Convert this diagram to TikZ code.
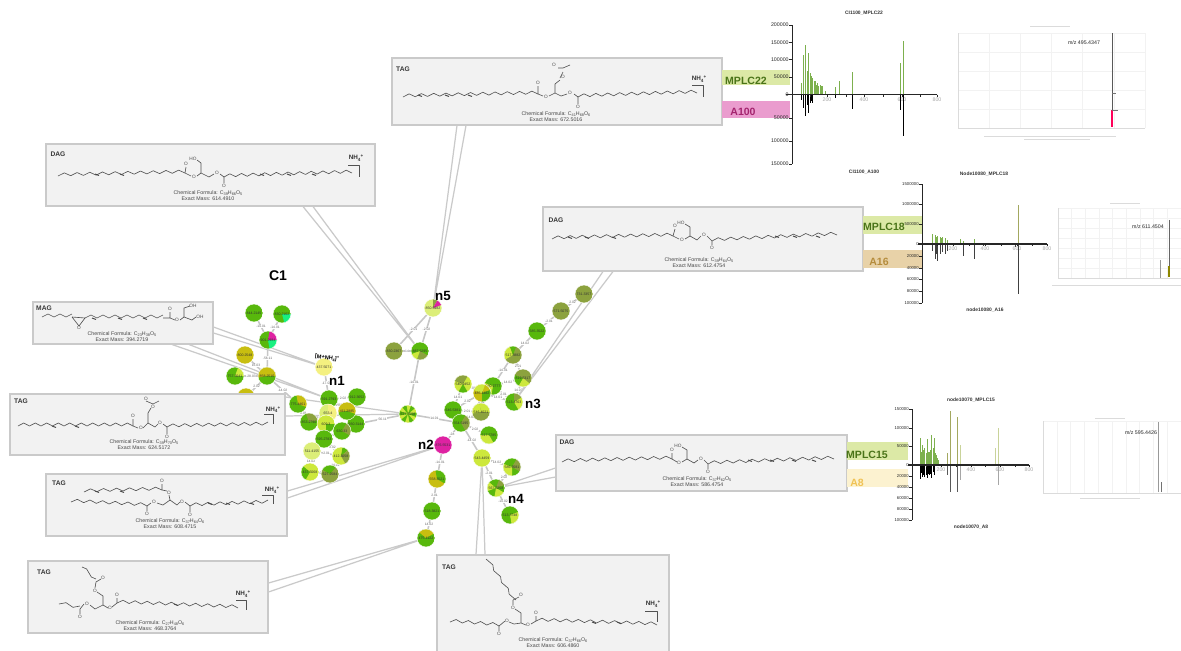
\documentclass[tikz,border=0pt]{standalone}
\usepackage{fontspec}
\setmainfont{Liberation Sans}
\newcount\nc
\newcommand{\fs}[1]{\fontsize{#1}{#1}\selectfont}
\newcommand{\subs}[1]{\raisebox{-.35ex}{\fs{2.2}#1}}
\newcommand{\nhf}{NH\raisebox{-.35ex}{\fs{2.6}4}\raisebox{.7ex}{\fs{2.6}+}}
\definecolor{cG}{HTML}{58B80C}
\definecolor{cL}{HTML}{CDE83C}
\definecolor{cP}{HTML}{DCEE78}
\definecolor{cO}{HTML}{8CA23E}
\definecolor{cY}{HTML}{C8BE10}
\definecolor{cV}{HTML}{F4F080}
\definecolor{cM}{HTML}{DE22A2}
\definecolor{cC}{HTML}{18F080}
\definecolor{boxf}{HTML}{F2F2F2}
\definecolor{boxl}{HTML}{CACACA}
\definecolor{bandG}{HTML}{DCE9A6}
\definecolor{bandM}{HTML}{EA9CCE}
\definecolor{bandO}{HTML}{E8D2A8}
\definecolor{bandY}{HTML}{FCF2D0}
\definecolor{txtG}{HTML}{4A7418}
\definecolor{txtM}{HTML}{A4246E}
\definecolor{txtO}{HTML}{B58C3C}
\definecolor{txtY}{HTML}{F0C254}
\definecolor{pkG}{HTML}{7DB04E}
\definecolor{pkO}{HTML}{A3A860}
\definecolor{pkL}{HTML}{C9D39A}
\tikzset{
  netnode/.style={circle,minimum size=0.36cm,inner sep=0pt},
  nlab/.style={font=\fs{2}\selectfont,text=black!80,inner sep=0pt},
  edge/.style={draw=black!22,line width=.9pt},
  elab/.style={font=\fs{1.9}\selectfont,text=black!60,fill=white,inner sep=.3pt,midway},
  mol/.style={draw=black!68,line width=.36pt,line join=round},
  dblb/.style={draw=black!72,line width=.55pt},
  atm/.style={font=\fs{2.7}\selectfont,text=black!70,inner sep=0pt},
  lipbox/.style={draw=boxl,fill=boxf,line width=.6pt},
  lipname/.style={font=\fs{3.8}\bfseries,text=black!78,inner sep=0pt},
  form/.style={font=\fs{3}\selectfont,text=black!72,inner sep=0pt},
  nhfour/.style={font=\fs{3.6}\bfseries,text=black!80,inner sep=0pt},
  tag/.style={font=\fs{7.6}\bfseries,text=black,inner sep=0pt},
  bandtxt/.style={font=\fs{6}\bfseries,inner sep=0pt},
  axl/.style={font=\fs{3}\selectfont,text=black!85,inner sep=0pt,anchor=east},
  axs/.style={font=\fs{2.4}\selectfont,text=black!85,inner sep=0pt,anchor=east},
  xlab/.style={font=\fs{3}\selectfont,text=black!35,inner sep=0pt},
  ctitle/.style={font=\fs{2.8}\bfseries,text=black!80,inner sep=0pt},
  axisl/.style={draw=black!85,line width=.55pt},
  gridl/.style={draw=black!5,line width=.25pt},
  plin/.style={draw=black!14,line width=.25pt},
  mz/.style={font=\fs{3}\selectfont,text=black!85,inner sep=0pt},
  capl/.style={draw=black!14,line width=.4pt},
}
\newcommand{\tnode}[3][]{\global\advance\nc by 1 \node[#1] (t\the\nc) at #2 {#3};}
\newcommand{\eg}[3]{\global\advance\nc by 1 \draw[edge] (#1) -- node[elab] (e\the\nc) {#3} (#2);}
\newcommand{\pie}[4]{%
  \begin{scope}
    \clip (#1.center) circle[radius=9];
    \fill[#2] (#1.center) circle[radius=9];
    \foreach \wa/\wb/\wc in {#3} {\fill[\wc] (#1.center) -- +(\wa:20) -- +({(\wa+\wb)/2}:20) -- +(\wb:20) -- cycle;}
  \end{scope}
  \draw[white,line width=.25pt] (#1.center) circle[radius=9];
  \node[nlab] (#1t) at (#1.center) {#4};}
\newcommand{\zz}[6]{\draw[mol] (#1,#2) \foreach \i in {1,...,#5} {-- ({#1+\i*(#3-#1)/#5},{#2+\i*(#4-#2)/#5+(isodd(\i)?(#6):0)})};}
\newcommand{\zv}[6]{\draw[mol] (#1,#2) \foreach \i in {1,...,#5} {-- ({#1+\i*(#3-#1)/#5+(isodd(\i)?(#6):0)},{#2+\i*(#4-#2)/#5})};}
\newcommand{\dbl}[2]{\foreach \dx in {#2} {\draw[dblb] (\dx,#1) -- ++(4,1.5);}}
\newcommand{\atom}[3]{\tnode[atm]{(#1,#2)}{#3}}
\newcommand{\callout}[5]{\fill[boxf] (#1,#2) -- (#5) -- (#3,#4) -- cycle; \draw[boxl,line width=.7pt] (#1,#2) -- (#5) -- (#3,#4);}
\newcommand{\peaks}[5]{\foreach \z/\h in {#5} {\draw[#1] ({#2+\z/3},#3) -- ++(0,{#4*\h/3});}}
\newcommand{\panel}[6]{%
  \foreach \i in {0,...,#5} {\draw[gridl] ({#1+\i*(#3-#1)/#5},#2) -- ++(0,{#4-#2});}
  \foreach \i in {0,...,#6} {\draw[gridl] (#1,{#2+\i*(#4-#2)/#6}) -- ++({#3-#1},0);}
  \draw[plin] (#1,#4) -- (#3,#4) (#1,#2) -- (#1,#4);}
\begin{document}
\begin{tikzpicture}[x=0.02cm,y=-0.02cm]
\clip (0,0) rectangle (1181,650);
\fill[white] (0,0) rectangle (1181,650);
% ---------- network nodes (positions)
\foreach \nm/\px/\py in {a/254/313,b/282/314,c/268/340,d/245/355,e/267/376,f/235/376,g/246/397,h/298/404,
  i/324/367,j/329/399,k/357/397,l/347/411,m/328/413,n/309/422,o/326/424,p/356/424,q/342/431,r/324/439,
  s/312/451,t/341/456,u/310/472,v/330/474,hub/408/414,nfive/433/308,w/394/351,x/420/351,ntwo/443/445,
  ba/584/294,bb/561/311,bc/537/331,bd/513/355,be/523/378,bf/493/386,nthree/514/402,bg/463/384,bh/482/393,
  bi/453/410,bj/481/412,bk/461/423,bl/489/435,bm/482/458,bn/512/467,nfour/496/488,bo/510/515,
  bp/437/479,bq/432/511,br/426/538}
  {\node[netnode] (\nm) at (\px,\py) {};}
% ---------- connectors
\eg{a}{c}{-14.01}\eg{b}{c}{-14.01}\eg{c}{e}{-56.11}\eg{d}{e}{16.03}\eg{f}{e}{-28.03}\eg{g}{e}{2.02}
\eg{e}{h}{-14.02}\eg{h}{n}{2.01}\eg{i}{j}{-17.03}\eg{j}{k}{2.02}\eg{j}{l}{14.02}\eg{k}{l}{2.01}\eg{l}{p}{2.02}
\eg{j}{m}{2.01}\eg{m}{n}{14.02}\eg{m}{o}{2.01}\eg{o}{q}{2.01}\eg{p}{q}{14.02}\eg{q}{r}{2.02}\eg{o}{r}{14.02}
\eg{r}{s}{14.01}\eg{r}{t}{2.02}\eg{s}{t}{2.01}\eg{s}{u}{14.02}\eg{t}{v}{14.01}\eg{u}{v}{2.02}
\eg{p}{hub}{-56.11}\eg{hub}{x}{-14.01}\eg{x}{nfive}{-2.02}\eg{w}{nfive}{-2.01}\eg{w}{x}{14}
\eg{hub}{bk}{14.01}\eg{bk}{ntwo}{-28}\eg{bk}{bi}{2.01}\eg{bk}{bj}{14.02}\eg{bk}{bl}{2.02}\eg{bk}{bm}{-14.02}
\eg{bi}{bj}{2.01}\eg{bi}{bg}{14.01}\eg{bi}{bh}{2.02}\eg{bg}{bh}{2.01}\eg{bh}{bf}{2}\eg{bf}{be}{14.02}\eg{bf}{nthree}{2.01}\eg{bf}{bd}{-14.01}
\eg{bh}{bj}{2.02}\eg{bh}{nthree}{14.01}\eg{bd}{be}{2.01}\eg{bd}{bc}{14.02}\eg{bc}{bb}{-2.01}\eg{bb}{ba}{2.02}\eg{be}{nthree}{14.02}
\eg{bm}{bn}{14.02}\eg{bm}{nfour}{-2.01}\eg{bn}{nfour}{2.02}\eg{nfour}{bo}{-14.02}\eg{ntwo}{bp}{-14.01}\eg{bp}{bq}{2.01}\eg{bq}{br}{14.02}
\pie{g}{cY}{}{875.5432}
% ---------- boxes with callouts
\draw[lipbox] (392,58) rectangle (722,125);
\draw[lipbox] (46,144) rectangle (375,206);
\draw[lipbox] (543,207) rectangle (863,271);
\draw[lipbox] (33,302) rectangle (213,344);
\draw[lipbox] (10,394) rectangle (285,455);
\draw[lipbox] (46,474) rectangle (287,536);
\draw[lipbox] (28,561) rectangle (268,633);
\draw[lipbox] (437,555) rectangle (669,660);
\draw[lipbox] (556,435) rectangle (847,491);
\callout{457}{125.5}{466}{125.5}{nfive}
\callout{303}{206.5}{313}{206.5}{x}
\callout{603}{271.5}{613}{271.5}{nthree}
\callout{213.5}{327}{213.5}{333}{i}
\callout{172}{344.5}{189}{344.5}{j}
\callout{285.5}{397}{285.5}{416}{hub}
\callout{287.5}{491}{287.5}{498}{ntwo}
\callout{268.5}{583}{268.5}{592}{br}
\callout{476}{554.5}{485}{554.5}{bm}
\callout{555.5}{468}{555.5}{477}{nfour}
% ---------- pies
\pie{a}{cG}{}{844.2145}
\pie{b}{cG}{0/75/cC}{830.2162}
\pie{c}{cG}{-80/0/cM,0/80/cC}{901.2984}
\pie{d}{cY}{}{800.2548}
\pie{e}{cG}{170/360/cY}{858.2510}
\pie{f}{cG}{-70/0/cL}{757.3041}
\pie{h}{cG}{-100/20/cY}{775.4461}
\pie{i}{cV}{}{437.5071}
\pie{j}{cG}{}{591.2793}
\pie{k}{cG}{}{912.3652}
\pie{n}{cG}{-110/-10/cO}{853.2790}
\pie{m}{cP}{-90/80/cV}{653.4}
\pie{o}{cL}{0/90/cG}{609.3}
\pie{p}{cG}{}{930.3144}
\pie{l}{cY}{20/170/cG}{411.2885}
\pie{q}{cG}{-60/30/cO}{630.33}
\pie{r}{cG}{}{595.2783}
\pie{s}{cP}{}{511.4155}
\pie{t}{cL}{-80/-40/cG,-40/60/cO}{412.3058}
\pie{u}{cL}{120/220/cG}{437.5068}
\pie{v}{cO}{-150/-50/cG}{527.2584}
\pie{hub}{cL}{-70/-40/cG,-10/20/cG,50/80/cG,110/140/cG,170/200/cG,230/260/cG}{577.5558}
\pie{nfive}{cP}{-90/-60/cO,-60/-20/cM}{850.5982}
\pie{w}{cO}{}{830.2367}
\pie{x}{cG}{30/110/cO,110/160/cL}{887.5295}
\pie{ntwo}{cM}{}{876.5531}
\pie{ba}{cO}{}{731.3357}
\pie{bb}{cO}{}{571.5075}
\pie{bc}{cG}{}{585.3522}
\pie{bd}{cO}{150/250/cL,250/290/cG}{517.3882}
\pie{be}{cO}{40/120/cL,120/200/cG}{819.5317}
\pie{bf}{cG}{100/200/cL}{490.2777}
\pie{nthree}{cG}{-90/-30/cO,-30/60/cL}{513.4763}
\pie{bg}{cL}{-160/-60/cO,60/120/cG}{540.2452}
\pie{bh}{cY}{-20/90/cG,200/290/cL}{485.4482}
\pie{bi}{cG}{}{646.5381}
\pie{bj}{cO}{-100/0/cL,170/260/cL}{546.4021}
\pie{bk}{cG}{-60/60/cO}{554.5195}
\pie{bl}{cG}{60/180/cL}{517.5785}
\pie{bm}{cL}{}{543.4459}
\pie{bn}{cG}{-60/30/cO,90/200/cL}{586.3581}
\pie{nfour}{cG}{-70/-20/cO,30/100/cL,160/220/cL}{567.5258}
\pie{bo}{cG}{-20/80/cL}{513.3748}
\pie{bp}{cY}{-100/30/cG}{558.3521}
\pie{bq}{cG}{}{518.3821}
\pie{br}{cG}{-140/-30/cY}{475.4122}
% ---------- network labels
\tnode[rotate=-8,font=\fs{3.2}\bfseries,inner sep=0pt]{(327,358)}{[M+NH\subs{4}]\raisebox{.7ex}{\fs{2.2}+}}
\tnode[tag,font=\fs{8}\bfseries]{(278,276)}{C1}
\tnode[tag]{(337,381)}{n1}
\tnode[tag]{(426,445)}{n2}
\tnode[tag]{(533,404)}{n3}
\tnode[tag]{(516,499)}{n4}
\tnode[tag]{(443,296)}{n5}
% ---------- molecules
% TAG top
\tnode[lipname]{(403,69)}{TAG}
\zz{403}{97}{538}{94}{22}{-3}\dbl{95}{418,445,468}
\draw[mol] (538,94) -- (538,86) (538,94) -- (543,96) (549,96) -- (555,93) -- (555,84) -- (560,80) (555,93) -- (561,96) -- (567,94) (574,94) -- (578,97) -- (578,104) (558,68) -- (563,68) -- (570,65) (560,78) -- (563,72);
\atom{538}{83}{O}\atom{546}{97}{O}\atom{563}{77}{O}\atom{554}{65}{O}\atom{570}{93}{O}\atom{578}{107}{O}
\zz{578}{97}{697}{93}{20}{-3}
\draw[mol] (692,85) -- (703,85) -- (703,97);\tnode[nhfour]{(699,79)}{\nhf}
\tnode[form]{(556,114)}{Chemical Formula: C\subs{41}H\subs{68}O\subs{6}}\tnode[form]{(556,120)}{Exact Mass: 672.5016}
% DAG 1
\tnode[lipname]{(58,154)}{DAG}
\zz{58}{176}{185}{173}{20}{-3}\dbl{174}{95,120}
\draw[mol] (185,173) -- (186,167) (185,173) -- (191,176) (197,176) -- (201,173) -- (201,163) -- (197,160) (201,173) -- (209,177) -- (214,174) (220,174) -- (224,177) -- (224,183);
\atom{186}{164}{O}\atom{194}{177}{O}\atom{193}{159}{HO}\atom{217}{173}{O}\atom{224}{186}{O}
\zz{224}{177}{352}{173}{22}{-3}\dbl{174}{260,287,312}
\draw[mol] (348,165) -- (359,165) -- (359,177);\tnode[nhfour]{(356,158)}{\nhf}
\tnode[form]{(208,193)}{Chemical Formula: C\subs{39}H\subs{66}O\subs{5}}\tnode[form]{(208,198.5)}{Exact Mass: 614.4910}
% DAG 2
\tnode[lipname]{(556,220)}{DAG}
\zz{552}{239}{673}{236}{20}{-3}\dbl{237}{568,585,612}
\draw[mol] (673,236) -- (675,229) (673,236) -- (679,239) (685,239) -- (690,236) -- (690,227) -- (685,224) (690,236) -- (697,240) -- (701,236) (707,236) -- (712,241) -- (712,245);
\atom{675}{226}{O}\atom{682}{240}{O}\atom{681}{223}{HO}\atom{704}{235}{O}\atom{712}{248}{O}
\zz{712}{241}{837}{235}{20}{-3}\dbl{236}{775,793,816}
\tnode[form]{(699,260)}{Chemical Formula: C\subs{39}H\subs{64}O\subs{5}}\tnode[form]{(699,265.5)}{Exact Mass: 612.4754}
% DAG 3
\tnode[lipname]{(567,442)}{DAG}
\zz{562}{462}{672}{459}{18}{-3}
\draw[mol] (672,459) -- (672,453) (672,459) -- (677,462) (682,462) -- (687,459) -- (687,450) -- (682,447) (687,459) -- (694,463) -- (698,460) (704,460) -- (708,464) -- (708,469);
\atom{672}{450}{O}\atom{679}{463}{O}\atom{678}{446}{HO}\atom{701}{459}{O}\atom{708}{472}{O}
\zz{708}{464}{834}{459}{20}{-3}\dbl{460}{748,770,792,812}
\tnode[form]{(697,479)}{Chemical Formula: C\subs{37}H\subs{62}O\subs{5}}\tnode[form]{(697,485)}{Exact Mass: 586.4754}
% MAG
\tnode[lipname]{(44,308)}{MAG}
\zz{42}{317}{72}{317}{5}{-3}
\draw[mol] (72,317) -- (79,326) -- (85,318) -- (72,317);
\zz{85}{318}{163}{318}{13}{-3}\dbl{318}{92,118,143}
\draw[mol] (163,318) -- (170,318) -- (170,312) (170,318) -- (175,320) (180,320) -- (184,317) -- (184,308) -- (190,306) (184,317) -- (192,320) -- (196,317);
\atom{170}{309}{O}\atom{177}{320}{O}\atom{193}{305.5}{OH}\atom{200}{317}{OH}\atom{79}{328}{O}
\tnode[form]{(122,334)}{Chemical Formula: C\subs{23}H\subs{38}O\subs{5}}\tnode[form]{(122,339.5)}{Exact Mass: 394.2719}
% TAG 3
\tnode[lipname]{(21,401)}{TAG}
\zz{18}{426}{133}{426}{20}{-3}\dbl{426}{52,75}
\draw[mol] (133,426) -- (133,419) (133,426) -- (138,428) (143,428) -- (148,423) -- (148,413) -- (151,408) (153,404) -- (146,401) (153,404) -- (159,401) (148,423) -- (155,427) -- (158,424) (163,424) -- (167,427) -- (167,434);
\atom{133}{416}{O}\atom{141}{428}{O}\atom{146}{399}{O}\atom{153}{406.5}{O}\atom{160}{423}{O}\atom{167}{437}{O}
\zz{167}{427}{268}{425}{17}{-3}
\draw[mol] (264,414) -- (273,414) -- (273,424);\tnode[nhfour]{(273,409.5)}{\nhf}
\tnode[form]{(144,442)}{Chemical Formula: C\subs{39}H\subs{70}O\subs{5}}\tnode[form]{(144,448)}{Exact Mass: 624.5172}
% TAG 4
\tnode[lipname]{(59,483)}{TAG}
\zz{84}{492}{162}{490}{12}{-3}\dbl{491}{95,120}
\draw[mol] (162,490) -- (162,484) (162,490) -- (167,491) (169,495) -- (170,500) -- (163,505) -- (157,503) (151,503) -- (147,506) -- (147,511) (170,500) -- (177,505) -- (180,502) (185,502) -- (190,506) -- (190,512);
\atom{162}{481}{O}\atom{169}{493}{O}\atom{154}{502}{O}\atom{147}{514}{O}\atom{182}{502}{O}\atom{190}{515}{O}
\zz{71}{502}{147}{506}{12}{-3}
\zz{190}{506}{268}{503}{13}{-3}\dbl{503}{208,226,250}
\draw[mol] (262,495) -- (273,495) -- (273,504);\tnode[nhfour]{(272,490)}{\nhf}
\tnode[form]{(170,521)}{Chemical Formula: C\subs{37}H\subs{64}O\subs{6}}\tnode[form]{(170,526.5)}{Exact Mass: 608.4715}
% TAG 5
\tnode[lipname]{(44,572)}{TAG}
\zz{82}{567}{96}{582}{3}{-3}
\draw[mol] (96,582) -- (101,579) (96,582) -- (95,588) (97,592) -- (103,596) -- (103,605) -- (95,609) -- (90,605) (84,604) -- (80,609) -- (80,614) (103,605) -- (108,608) (112,607) -- (117,603) -- (117,598);
\atom{103}{578}{O}\atom{95}{591}{O}\atom{87}{604}{O}\atom{80}{617}{O}\atom{110}{608}{O}\atom{117}{595}{O}
\zz{59}{604}{80}{609}{3}{-3}
\zz{117}{603}{238}{608}{20}{-3}\dbl{604}{174}
\draw[mol] (236,600) -- (246,600) -- (246,610);\tnode[nhfour]{(243,594)}{\nhf}
\tnode[form]{(150,623)}{Chemical Formula: C\subs{27}H\subs{48}O\subs{6}}\tnode[form]{(150,629)}{Exact Mass: 468.3764}
% TAG 6
\tnode[lipname]{(449,567)}{TAG}
\zv{486}{559}{513}{600}{7}{3}
\draw[mol] (513,600) -- (519,597) (513,600) -- (513,605) (515,609) -- (521,613) -- (521,623) -- (526,625) (521,623) -- (514,624) -- (509,622) (505,621) -- (499,626) -- (499,631) (531,624) -- (536,621) -- (536,616);
\atom{521}{595}{O}\atom{513}{608}{O}\atom{507}{621}{O}\atom{499}{634}{O}\atom{528}{625}{O}\atom{536}{613}{O}
\zz{450}{622}{499}{626}{8}{-3}
\zz{536}{621}{657}{625}{20}{-3}\dbl{622}{592,617}
\draw[mol] (645,611) -- (657,611) -- (657,622);\tnode[nhfour]{(653,604)}{\nhf}
\tnode[form]{(553,640)}{Chemical Formula: C\subs{37}H\subs{66}O\subs{6}}\tnode[form]{(553,646)}{Exact Mass: 606.4860}
% ---------- bands
\fill[bandG] (722,70) rectangle (790,85);
\fill[bandM] (722,101) rectangle (790,118);
\fill[bandG] (863,216) rectangle (922,234);
\fill[bandO] (863,250) rectangle (922,268);
\fill[bandG] (847,442) rectangle (908,460);
\fill[bandY] (847,469) rectangle (908,487);
% ---------- chart 1
\foreach \ty/\tl in {25/200000,42.5/150000,59.5/100000,77/50000,94.5/0,118/50000,141/100000,164/150000}
  {\draw[axisl] (789,\ty) -- (792,\ty); \tnode[axl]{(789,\ty)}{\tl}}
\foreach \tx/\tl in {827/200,864/400,902/600,937/800}{\tnode[xlab]{(\tx,100)}{\tl}}
\peaks{pkG,line width=.45pt}{720}{94.5}{-1}{243/35,250/120,257/150,262/70,265/125,270/60,272/65,275/55,278/50,282/40,285/40,289/30,292/35,296/25,300/30,303/27,307/25,315/12,347/22,357/40,398/68,541/95,551/160}
\peaks{black,line width=.45pt}{720}{94.5}{1}{245/15,250/40,257/65,262/30,265/55,270/25,272/20,275/20,278/25,347/10,398/42,541/45,551/123}
\draw[axisl] (792,25) -- (792,164);\draw[axisl,line width=.7pt] (786,94.5) -- (937,94.5);
\foreach \tx in {810,827,846,864,883,902,920,937}{\draw[axisl] (\tx,94.5) -- ++(0,2);}
\tnode[ctitle]{(864,13.5)}{CI1100\_MPLC22}\tnode[ctitle]{(864,172)}{CI1100\_A100}
% ---------- chart 2
\foreach \ty/\tl in {184/1500000,204/1000000,224/500000,244/0,256/20000,268/40000,279/60000,291/80000,303/100000}
  {\draw[axisl] (919,\ty) -- (922,\ty); \tnode[axs]{(919,\ty)}{\tl}}
\foreach \tx/\tl in {953/200,985/400,1017/600,1047/800}{\tnode[xlab]{(\tx,249)}{\tl}}
\peaks{pkG,line width=.4pt}{850}{244}{-1}{247/30,255/28,259/20,263/25,270/22,274/18,278/20,285/18,293/12,330/15,340/8,372/14}
\peaks{pkO,line width=.5pt}{850}{244}{-1}{505/118}
\peaks{black!75,line width=.45pt}{850}{244}{1}{247/20,255/45,259/30,263/52,270/30,278/25,285/30,293/22,310/5,340/35,372/45,400/5,495/10,505/150}
\draw[axisl] (922,184) -- (922,303);\draw[axisl,line width=.7pt] (918,244) -- (1047,244);
\foreach \tx in {937,953,969,985,1001,1017,1032,1047}{\draw[axisl] (\tx,244) -- ++(0,2);}
\tnode[ctitle]{(984,174)}{Node10080\_MPLC18}\tnode[ctitle]{(985,310)}{node10080\_A16}
% ---------- chart 3
\foreach \ty/\tl in {409/150000,428/100000,446/50000,465/0,476/20000,487/40000,498/60000,509/80000,520/100000}
  {\draw[axisl] (909,\ty) -- (912,\ty); \tnode[axs]{(909,\ty)}{\tl}}
\foreach \tx/\tl in {941/200,971/400,1000/600,1029/800}{\tnode[xlab]{(\tx,470)}{\tl}}
\peaks{pkG,line width=.45pt}{840}{465}{-1}{241/82,244/40,247/60,250/45,254/50,258/35,261/78,265/40,268/40,272/45,275/90,279/50,282/80,285/35,288/30,292/20,295/15}
\peaks{pkO,line width=.55pt}{840}{465}{-1}{322/35,330/162,353/145}
\peaks{pkL,line width=.5pt}{840}{465}{-1}{362/60,466/50,474/112}
\peaks{black,line width=.45pt}{840}{465}{1}{241/42,244/25,247/35,250/30,254/35,258/30,261/38,265/28,268/30,272/28,275/40,279/22,282/30}
\peaks{black!65,line width=.5pt}{840}{465}{1}{322/30,330/80,353/80}
\peaks{black!35,line width=.5pt}{840}{465}{1}{362/45,474/60}
\draw[axisl] (912,409) -- (912,520);\draw[axisl,line width=.7pt] (908,465) -- (1029,465);
\foreach \tx in {926,941,956,971,985,1000,1015,1029}{\draw[axisl] (\tx,465) -- ++(0,2);}
\tnode[ctitle]{(971,400)}{node10070\_MPLC15}\tnode[ctitle]{(971,527)}{node10070\_A8}
% ---------- band texts
\tnode[bandtxt,text=txtG]{(746,81)}{MPLC22}
\tnode[bandtxt,text=txtM]{(743,112)}{A100}
\tnode[bandtxt,text=txtG]{(884,227)}{MPLC18}
\tnode[bandtxt,text=txtO]{(879,262)}{A16}
\tnode[bandtxt,text=txtG]{(867,455)}{MPLC15}
\tnode[bandtxt,text=txtY]{(857,483)}{A8}
% ---------- right panels
\panel{958}{33}{1145}{128}{6}{5}
\draw[black!65,line width=.55pt] (1112,33) -- (1112,110);
\draw[red!65!magenta,line width=1.2pt] (1112,110) -- (1112,127);
\draw[black!55,line width=.3pt] (1112,93) -- ++(4,0) (1112,110) -- ++(6,0);
\tnode[mz]{(1084,43)}{m/z 495.4347}
\draw[capl] (984,136) -- (1116,136) (1024,139) -- (1090,139);
\draw[capl] (1030,26) -- (1070,26);
\panel{1058}{208}{1181}{278}{9}{7}
\draw[black!60,line width=.5pt] (1169,220) -- (1169,275);
\draw[olive,line width=.7pt] (1169,266) -- (1169,277);
\draw[black!40,line width=.35pt] (1160,260) -- (1160,278);
\tnode[mz]{(1148,227)}{m/z 611.4504}
\draw[capl] (1052,285) -- (1181,285);
\draw[capl] (1110,203) -- (1140,203);
\panel{1043}{421}{1181}{493}{10}{1}
\draw[black!40,line width=.45pt] (1158,422) -- (1158,492);
\draw[black!55,line width=.35pt] (1161,482) -- (1161,492);
\tnode[mz]{(1141,433)}{m/z 595.4426}
\draw[capl] (1080,498) -- (1140,498);
\draw[capl] (1095,418) -- (1125,418);
\end{tikzpicture}
\end{document}
